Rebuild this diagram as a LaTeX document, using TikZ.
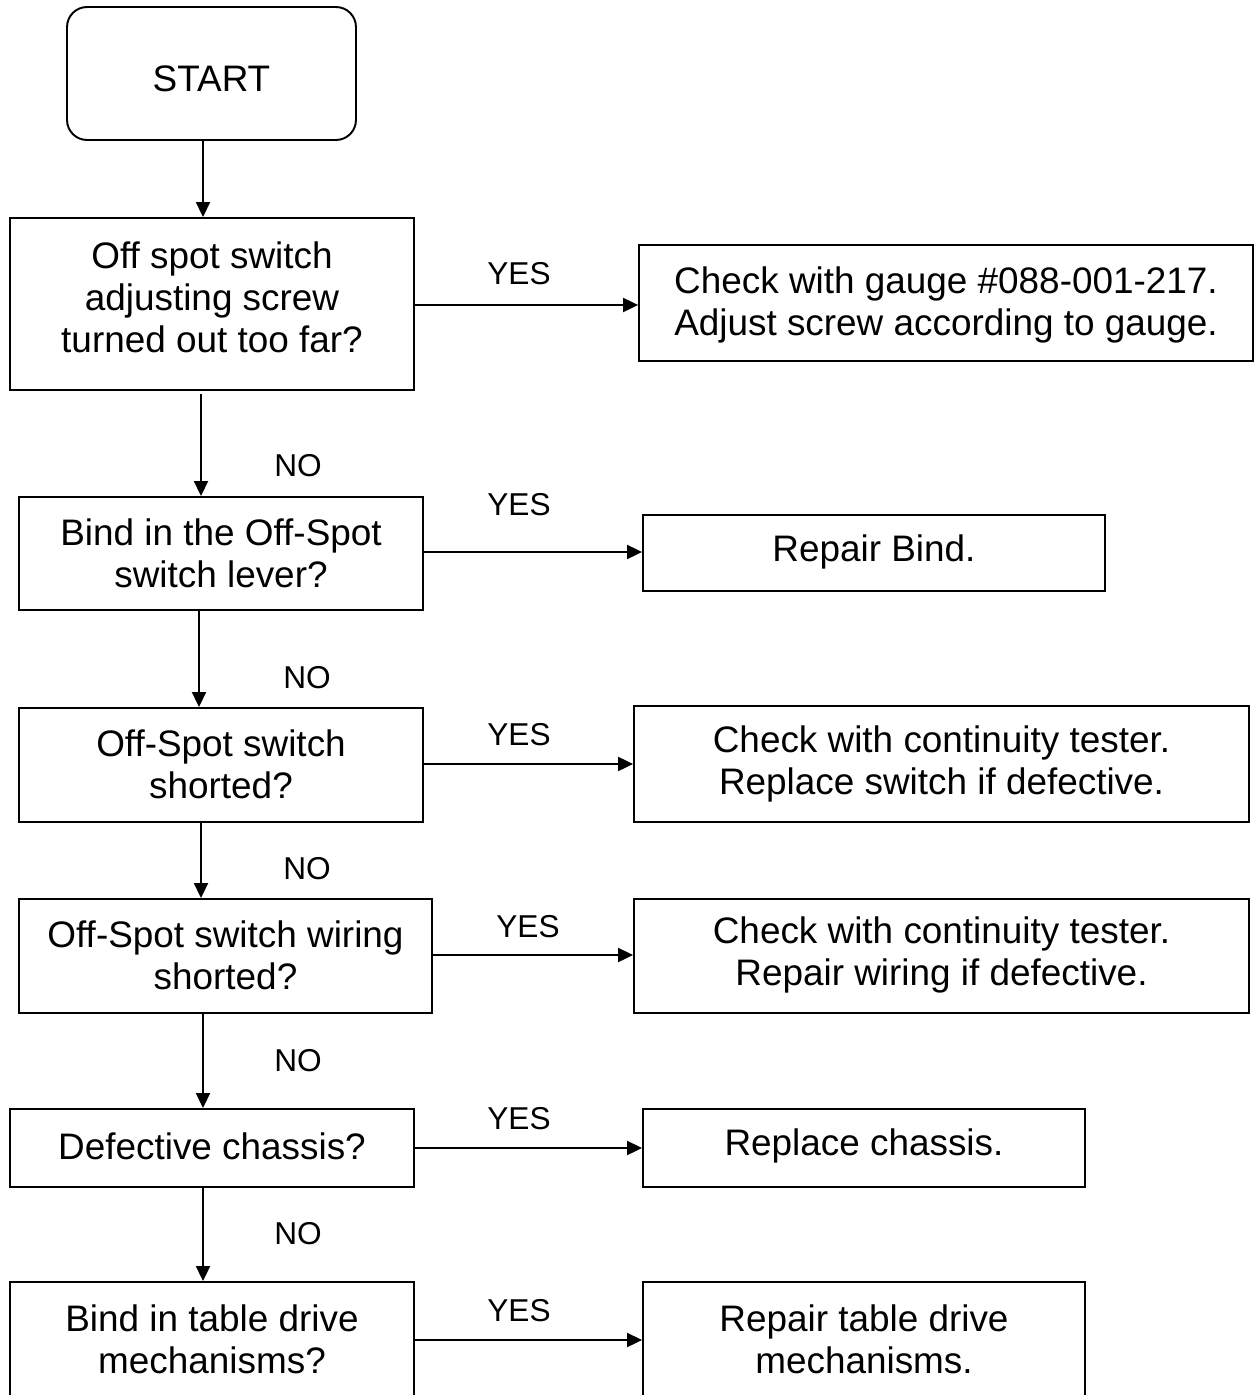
\documentclass[tikz,border=0pt]{standalone}
\usepackage{fontspec}
\setmainfont{Liberation Sans}
\usetikzlibrary{arrows.meta}
\begin{document}
\begin{tikzpicture}[x=0.02cm,y=-0.02cm,
  box/.style={draw,line width=1.1pt,inner sep=0pt},
  rbox/.style={box,rounded corners=0.4cm},
  txt/.style={align=center,inner sep=0pt,font=\fontsize{21}{23.9}\selectfont,yshift=-0.06cm},
  lbl/.style={inner sep=0pt,font=\fontsize{18}{20}\selectfont},
  arr/.style={line width=1.1pt,-{Triangle[length=0.3cm,width=0.28cm]}}]
\useasboundingbox (0,0) rectangle (1256,1395);
\clip (0,0) rectangle (1256,1395);
% boxes
\node[rbox,minimum width=5.78cm,minimum height=2.66cm] (s) at (211.5,73.5) {};
\node[txt] at (211.5,76) {START};
\node[box,minimum width=8.08cm,minimum height=3.44cm] (b1) at (212,304) {};
\node[txt] at (212,294) {Off spot switch\\adjusting screw\\turned out too far?};
\node[box,minimum width=12.28cm,minimum height=2.32cm] (r1) at (946,303) {};
\node[txt] at (946,302) {Check with gauge \#088-001-217.\\Adjust screw according to gauge.};
\node[box,minimum width=8.08cm,minimum height=2.26cm] (b2) at (221,553.5) {};
\node[txt] at (221,550.5) {Bind in the Off-Spot\\switch lever?};
\node[box,minimum width=9.24cm,minimum height=1.52cm] (r2) at (874,553) {};
\node[txt] at (874,549) {Repair Bind.};
\node[box,minimum width=8.08cm,minimum height=2.28cm] (b3) at (221,765) {};
\node[txt] at (221,761) {Off-Spot switch\\shorted?};
\node[box,minimum width=12.3cm,minimum height=2.32cm] (r3) at (941.5,764) {};
\node[txt] at (941.5,761) {Check with continuity tester.\\Replace switch if defective.};
\node[box,minimum width=8.26cm,minimum height=2.28cm] (b4) at (225.5,956) {};
\node[txt] at (225.5,952) {Off-Spot switch wiring\\shorted?};
\node[box,minimum width=12.3cm,minimum height=2.28cm] (r4) at (941.5,956) {};
\node[txt] at (941.5,952) {Check with continuity tester.\\Repair wiring if defective.};
\node[box,minimum width=8.08cm,minimum height=1.56cm] (b5) at (212,1148) {};
\node[txt] at (212,1143) {Defective chassis?};
\node[box,minimum width=8.84cm,minimum height=1.56cm] (r5) at (864,1148) {};
\node[txt] at (864,1143) {Replace chassis.};
\node[box,minimum width=8.08cm,minimum height=2.76cm] (b6) at (212,1351) {};
\node[txt] at (212,1336.5) {Bind in table drive\\mechanisms?};
\node[box,minimum width=8.84cm,minimum height=2.76cm] (r6) at (864,1351) {};
\node[txt] at (864,1336.5) {Repair table drive\\mechanisms.};
% helper coordinates
\coordinate (v0) at (203,0);
\coordinate (v1) at (201,0);
\coordinate (v2) at (199,0);
\coordinate (v3) at (201,0);
\coordinate (v4) at (203,0);
\coordinate (v5) at (203,0);
\coordinate (h1) at (0,305);
\coordinate (h2) at (0,552);
\coordinate (h3) at (0,764);
\coordinate (h4) at (0,955);
\coordinate (h5) at (0,1148);
\coordinate (h6) at (0,1340);
% vertical connectors
\draw[arr] (s.south -| v0) -- (b1.north -| v0);
\draw[arr] ([yshift=-0.06cm]b1.south -| v1) -- (b2.north -| v1);
\draw[arr] (b2.south -| v2) -- (b3.north -| v2);
\draw[arr] (b3.south -| v3) -- (b4.north -| v3);
\draw[arr] (b4.south -| v4) -- (b5.north -| v4);
\draw[arr] (b5.south -| v5) -- (b6.north -| v5);
% horizontal connectors
\draw[arr] (b1.east |- h1) -- (r1.west |- h1);
\draw[arr] (b2.east |- h2) -- (r2.west |- h2);
\draw[arr] (b3.east |- h3) -- (r3.west |- h3);
\draw[arr] (b4.east |- h4) -- (r4.west |- h4);
\draw[arr] (b5.east |- h5) -- (r5.west |- h5);
\draw[arr] (b6.east |- h6) -- (r6.west |- h6);
% labels
\node[lbl] (y1) at (519,274) {YES};
\node[lbl] (y2) at (519,505) {YES};
\node[lbl] (y3) at (519,735) {YES};
\node[lbl] (y4) at (528,927) {YES};
\node[lbl] (y5) at (519,1119) {YES};
\node[lbl] (y6) at (519,1311) {YES};
\node[lbl] (n1) at (298,466) {NO};
\node[lbl] (n2) at (307,678) {NO};
\node[lbl] (n3) at (307,869) {NO};
\node[lbl] (n4) at (298,1061) {NO};
\node[lbl] (n5) at (298,1234) {NO};
\end{tikzpicture}
\end{document}
